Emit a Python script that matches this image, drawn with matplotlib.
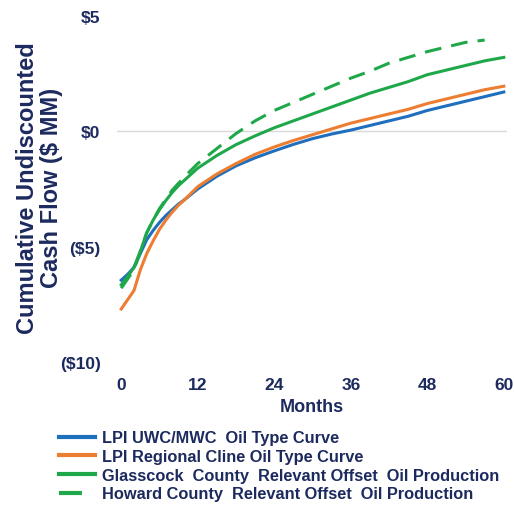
import matplotlib.pyplot as plt

months = [0, 1, 2, 3, 4, 5, 6, 7, 8, 9, 10, 12, 15, 18, 21, 24, 27, 30, 33, 36,
          39, 42, 45, 48, 51, 54, 57, 60]

# Cumulative undiscounted cash flow ($ MM)
uwc_mwc = [-6.45, -6.2, -5.9, -5.3, -4.7, -4.3, -3.95, -3.65, -3.4, -3.15, -2.95,
           -2.5, -1.95, -1.5, -1.15, -0.85, -0.57, -0.32, -0.12, 0.05,
           0.25, 0.45, 0.65, 0.9, 1.1, 1.3, 1.5, 1.7]
regional_cline = [-7.7, -7.3, -6.9, -6.0, -5.3, -4.75, -4.25, -3.85, -3.5, -3.2, -2.95,
                  -2.4, -1.85, -1.4, -1.0, -0.68, -0.4, -0.15, 0.1, 0.35,
                  0.55, 0.75, 0.95, 1.2, 1.4, 1.6, 1.8, 1.95]
glasscock = [-6.65, -6.3, -5.9, -5.2, -4.4, -3.85, -3.4, -3.0, -2.65, -2.35, -2.1,
             -1.6, -1.05, -0.58, -0.2, 0.15, 0.45, 0.75, 1.05, 1.35,
             1.65, 1.9, 2.15, 2.45, 2.65, 2.85, 3.05, 3.2]
howard = [-6.8, -6.4, -6.0, -5.2, -4.4, -3.85, -3.35, -2.95, -2.55, -2.25, -1.95,
          -1.4, -0.75, -0.1, 0.45, 0.9, 1.25, 1.6, 1.95, 2.3,
          2.6, 2.95, 3.2, 3.45, 3.65, 3.85, 3.95]

series_names = ["LPI UWC/MWC  Oil Type Curve",
                "LPI Regional Cline Oil Type Curve",
                "Glasscock  County  Relevant Offset  Oil Production",
                "Howard County  Relevant Offset  Oil Production"]

y_ticks = [5, 0, -5, -10]
y_tick_labels = ["$5", "$0", "($5)", "($10)"]
x_ticks = [0, 12, 24, 36, 48, 60]

navy = "#1c2a5e"
blue = "#1f6fbf"
orange = "#ed7d31"
green = "#1fa84a"

plt.rcParams['font.family'] = ['Liberation Sans', 'DejaVu Sans']

fig = plt.figure(figsize=(5.14, 5.10), dpi=100)
ax = fig.add_axes([0.228, 0.288, 0.758, 0.679])

#Plot the four curves
ax.plot(months, uwc_mwc, color=blue, linewidth=2.2, label=series_names[0])
ax.plot(months, regional_cline, color=orange, linewidth=2.2, label=series_names[1])
ax.plot(months, glasscock, color=green, linewidth=2.2, label=series_names[2])
ax.plot(months[:len(howard)], howard, color=green, linewidth=2.2,
        linestyle=(0, (5.5, 3.3)), label=series_names[3])

ax.axhline(0, color="#d9d9d9", linewidth=1, zorder=0)

ax.set_xlim(-0.63, 60.47)
ax.set_ylim(-10, 5)
ax.set_xticks(x_ticks)
ax.set_yticks(y_ticks)
ax.set_yticklabels(y_tick_labels)
ax.tick_params(axis='both', length=0, labelsize=12.5, labelcolor=navy)
ax.tick_params(axis='x', pad=11)
ax.tick_params(axis='y', pad=12)
for lbl in ax.get_xticklabels() + ax.get_yticklabels():
    lbl.set_fontweight('bold')
for s in ax.spines.values():
    s.set_visible(False)

ax.set_xlabel("Months", fontsize=13, fontweight='bold', color=navy, labelpad=4)
fig.text(0.077, 0.631, "Cumulative Undiscounted\nCash Flow ($ MM)", rotation=90,
         ha='center', va='center', fontsize=17, fontweight='bold', color=navy,
         linespacing=1.08)

leg = fig.legend(loc='upper left', bbox_to_anchor=(0.099, 0.17), frameon=False,
                 fontsize=11.8, handlelength=2.2, handletextpad=0.4,
                 labelspacing=0.22, borderpad=0)
for t in leg.get_texts():
    t.set_color(navy)
    t.set_fontweight('bold')
for h in leg.get_lines():
    h.set_linewidth(3)

fig.savefig("out.png", dpi=100)
